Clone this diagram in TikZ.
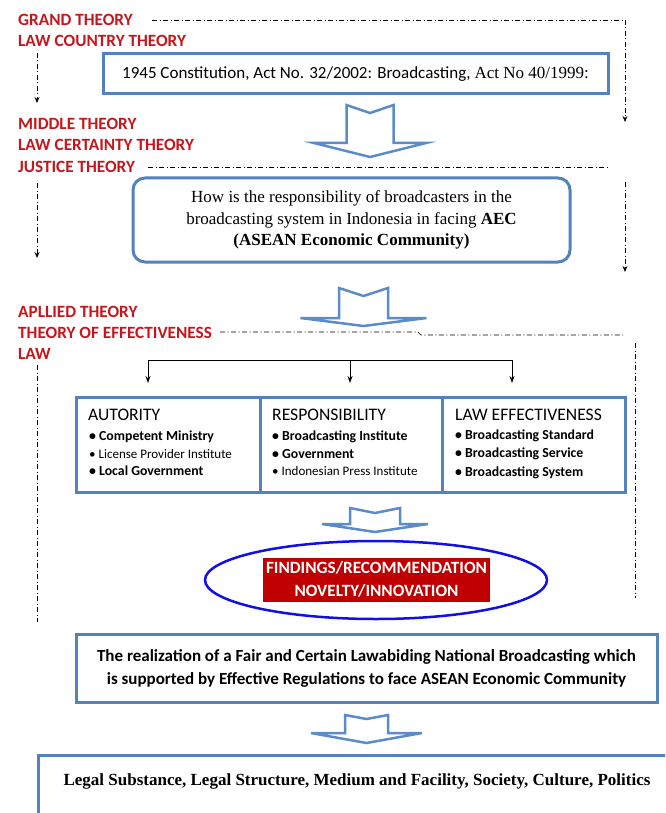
\documentclass[tikz,border=0pt]{standalone}
\usepackage{fontspec}
\setmainfont{Liberation Serif}
\newfontfamily\calfont{Carlito}
\usetikzlibrary{arrows.meta}
\definecolor{boxblue}{RGB}{84,130,190}
\definecolor{arrowblue}{RGB}{92,140,200}
\definecolor{theoryred}{RGB}{196,22,28}
\definecolor{ellblue}{RGB}{15,15,230}
\definecolor{findred}{RGB}{192,0,0}
\newcommand\BArrow[7]{%
  \draw[blockarrow] (#1-#5,#2) -- (#1,#3) -- (#1+#5,#2) -- (#1+#5,#4) -- (#1+#6,#4) -- (#1,#7) -- (#1-#6,#4) -- (#1-#5,#4) -- cycle;}
\begin{document}
\begin{tikzpicture}[x=1pt,y=-1pt,
  theory/.style={anchor=west, inner sep=0, text=theoryred, font=\calfont\bfseries\fontsize{17.2}{19}\selectfont},
  dd/.style={line width=0.7pt, dash pattern=on 5pt off 2.5pt on 1pt off 2.5pt},
  ddarrow/.style={dd, -{Stealth[length=6pt,width=5pt]}},
  bluebox/.style={draw=boxblue, line width=3pt, inner sep=0pt, fill=white},
  blockarrow/.style={draw=arrowblue, line width=2.5pt, fill=white, line join=miter},
  tarrow/.style={line width=1pt, -{Stealth[length=7pt,width=5pt]}},
  head/.style={anchor=west, inner sep=0, font=\calfont\fontsize{17.6}{19}\selectfont},
  item/.style={anchor=west, inner sep=0, font=\calfont\bfseries\fontsize{13.8}{15}\selectfont},
  smallitem/.style={anchor=west, inner sep=0, font=\calfont\fontsize{13}{14}\selectfont},
]
\useasboundingbox (0,0) rectangle (665,813);
\clip (0,0) rectangle (665,813);

% theory labels
\node[theory] (gt) at (18,20) {GRAND THEORY};
\node[theory] (lct) at (18,41) {LAW COUNTRY THEORY};
\node[theory] (mt) at (18,124) {MIDDLE THEORY};
\node[theory] (lcert) at (18,145) {LAW CERTAINTY THEORY};
\node[theory] (jt) at (18,167) {JUSTICE THEORY};
\node[theory] (at) at (18,312) {APLLIED THEORY};
\node[theory] (toe) at (18,333) {THEORY OF EFFECTIVENESS};
\node[theory] (law) at (18,354) {LAW};

% dash-dot lines
\coordinate (g1) at (152,20);
\coordinate (r1) at (625,122);
\draw[ddarrow] (g1) -| (r1);
\coordinate (l1a) at (37,53); \coordinate (l1b) at (37,103);
\draw[ddarrow] (l1a) -- (l1b);
\coordinate (j1) at (148,167); \coordinate (j2) at (608,167);
\draw[dd] (j1) -- (j2);
\coordinate (r2a) at (625,182); \coordinate (r2b) at (625,272);
\draw[ddarrow] (r2a) -- (r2b);
\coordinate (l2a) at (37,183); \coordinate (l2b) at (37,258);
\draw[ddarrow] (l2a) -- (l2b);
\coordinate (s0) at (220,332); \coordinate (s1) at (418,332); \coordinate (s2) at (421,335); \coordinate (s3) at (623,335);
\draw[dd] (s0) -- (s1) -- (s2) -- (s3);
\coordinate (r3a) at (635,343); \coordinate (r3b) at (635,598);
\draw[dd] (r3a) -- (r3b);
\coordinate (l3a) at (37,365); \coordinate (l3b) at (37,622);
\draw[dd] (l3a) -- (l3b);

% box 1
\node[bluebox, minimum width=505pt, minimum height=40pt] (b1) at (355.5,74)
  {\fontsize{17}{19}\selectfont{\calfont 1945 Constitution, Act No. 32/2002: Broadcasting, }Act No 40/1999:};

% arrow 1
\BArrow{370}{105}{113}{143}{23.5}{56}{157}

% box 2
\node[bluebox, rounded corners=12pt, minimum width=437pt, minimum height=84pt, align=center,
  font=\fontsize{17}{21.5}\selectfont] (b2) at (351.5,220)
  {How is the responsibility of broadcasters in the\\ broadcasting system in Indonesia in facing \textbf{AEC}\\ \textbf{(ASEAN Economic Community)}};

% arrow 2
\BArrow{363.5}{288}{296}{318}{24.5}{63}{326}

% tree connector
\coordinate (t1) at (148,360); \coordinate (t2) at (350,360); \coordinate (t3) at (512,360);
\coordinate (t1b) at (148,383); \coordinate (t2b) at (350,383); \coordinate (t3b) at (512,383);
\draw[line width=1pt] (t1) -- (t3);
\draw[tarrow] (t1) -- (t1b);
\draw[tarrow] (t2) -- (t2b);
\draw[tarrow] (t3) -- (t3b);

% three boxes
\node[bluebox, minimum width=184pt, minimum height=95pt] (ba) at (168,444.5) {};
\node[bluebox, minimum width=182pt, minimum height=95pt] (bb) at (351,444.5) {};
\node[bluebox, minimum width=183pt, minimum height=95pt] (bc) at (533.5,444.5) {};

\node[head] (ha) at (88,415) {AUTORITY};
\node[item] (a1) at (89,437) {• Competent Ministry};
\node[smallitem] (a2) at (89,454) {• License Provider Institute};
\node[item] (a3) at (89,471) {• Local Government};

\node[head] (hb) at (272,415) {RESPONSIBILITY};
\node[item] (bb1) at (272,437) {• Broadcasting Institute};
\node[item] (bb2) at (272,454) {• Government};
\node[smallitem] (bb3) at (272,471) {• Indonesian Press Institute};

\node[head] (hc) at (455,415) {LAW EFFECTIVENESS};
\node[item] (c1) at (455,436) {• Broadcasting Standard};
\node[item] (c2) at (455,454) {• Broadcasting Service};
\node[item] (c3) at (455,473) {• Broadcasting System};

% arrow 3
\BArrow{375}{508}{513}{524}{25}{53}{532}

% ellipse and findings
\draw[draw=ellblue, line width=2.5pt] (376,580) ellipse [x radius=171pt, y radius=39pt];
\node[fill=findred, text=white, minimum width=227pt, minimum height=44pt, inner sep=0pt, align=center,
  font=\calfont\bfseries\fontsize{17.2}{23}\selectfont] (find) at (376.5,579.5)
  {FINDINGS/RECOMMENDATION\\NOVELTY/INNOVATION};

% box 4
\node[bluebox, minimum width=581pt, minimum height=68pt, align=center,
  font=\calfont\bfseries\fontsize{17}{23}\selectfont] (b4) at (366.5,668)
  {The realization of a Fair and Certain Lawabiding National Broadcasting which\\ is supported by Effective Regulations to face ASEAN Economic Community};

% arrow 5
\BArrow{366.5}{715}{719}{733}{21.5}{55.5}{743}

% box 5
\node[bluebox, minimum width=634pt, minimum height=65pt] (b5) at (355,787.5) {};
\node[inner sep=0pt, font=\bfseries\fontsize{17}{19}\selectfont] (t5) at (357,781)
  {Legal Substance, Legal Structure, Medium and Facility, Society, Culture, Politics};
\end{tikzpicture}
\end{document}
